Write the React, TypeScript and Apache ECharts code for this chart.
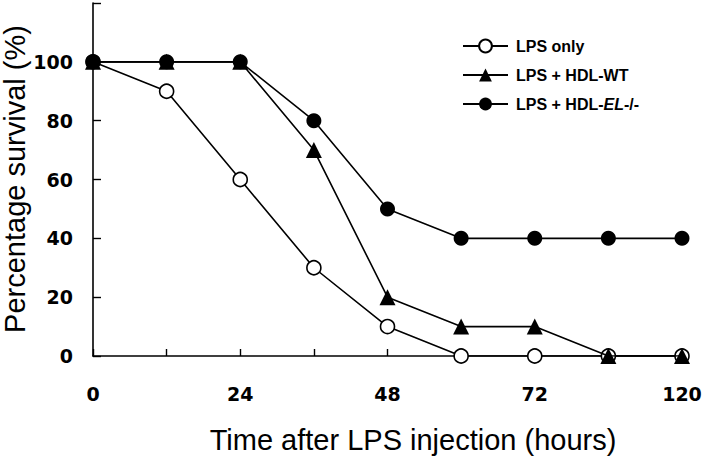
import React, { useEffect, useRef } from "react";
import * as echarts from "echarts";

const hours = ["0", "12", "24", "36", "48", "60", "72", "96", "120"];
const lpsOnly = [100, 90, 60, 30, 10, 0, 0, 0, 0];
const hdlWT = [100, 100, 100, 70, 20, 10, 10, 0, 0];
const hdlEL = [100, 100, 100, 80, 50, 40, 40, 40, 40];
const seriesNames = ["LPS only", "LPS + HDL-WT", "LPS + HDL-EL-/-"];
const yTicks = [0, 20, 40, 60, 80, 100];
const xTitle = "Time after LPS injection (hours)";
const yTitle = "Percentage survival (%)";

const FONT = "'Liberation Sans', Arial, sans-serif";
const TICKFONT = "'DejaVu Sans', sans-serif";

export default function App() {
  const ref = useRef<HTMLDivElement>(null);
  useEffect(() => {
    const chart = echarts.init(ref.current!, null, { renderer: "svg" });
    const lineStyle = { color: "#000", width: 1.6 };
    chart.setOption({
      animation: false,
      backgroundColor: "#fff",
      grid: { left: 93, right: 23, top: 3, bottom: 107, containLabel: false },
      graphic: [
        {
          type: "text",
          x: 413,
          y: 440,
          style: {
            text: xTitle,
            font: `29px ${FONT}`,
            fill: "#000",
            textAlign: "center",
            textVerticalAlign: "middle",
          },
        },
        {
          type: "text",
          x: 15,
          y: 179,
          rotation: Math.PI / 2,
          style: {
            text: yTitle,
            font: `29px ${FONT}`,
            fill: "#000",
            textAlign: "center",
            textVerticalAlign: "middle",
          },
        },
      ],
      legend: {
        orient: "vertical",
        left: 457,
        top: 33,
        itemWidth: 45,
        itemHeight: 16,
        itemGap: 13,
        data: seriesNames,
        textStyle: {
          fontFamily: FONT,
          fontWeight: "bold",
          fontSize: 16,
          color: "#000",
          padding: [0, 0, 0, 3],
          rich: {
            i: { fontFamily: FONT, fontWeight: "bold", fontStyle: "italic", fontSize: 16, color: "#000" },
          },
        },
        formatter: (name: string) =>
          name === "LPS + HDL-EL-/-" ? "LPS + HDL-{i|EL}-/-" : name,
      },
      xAxis: {
        type: "category",
        data: hours,
        boundaryGap: false,
        axisLine: { lineStyle: { color: "#000", width: 1.6 } },
        axisTick: { inside: true, length: 7, interval: 0, lineStyle: { color: "#000", width: 1.4 } },
        axisLabel: {
          interval: 1,
          margin: 28,
          fontFamily: TICKFONT,
          fontWeight: "bold",
          fontSize: 19,
          color: "#000",
        },
        splitLine: { show: false },
      },
      yAxis: {
        type: "value",
        min: 0,
        max: 120,
        interval: 20,
        axisLine: { show: true, lineStyle: { color: "#000", width: 1.6 } },
        axisTick: { show: true, inside: true, length: 8, lineStyle: { color: "#000", width: 1.4 } },
        axisLabel: {
          margin: 20,
          fontFamily: TICKFONT,
          fontWeight: "bold",
          fontSize: 19,
          color: "#000",
          formatter: (v: number) => (yTicks.includes(v) ? String(v) : ""),
        },
        splitLine: { show: false },
      },
      series: [
        {
          name: seriesNames[0],
          type: "line",
          data: lpsOnly,
          symbol: "circle",
          symbolSize: 14,
          lineStyle,
          itemStyle: { color: "#fff", borderColor: "#000", borderWidth: 1.6 },
          z: 2,
        },
        {
          name: seriesNames[2],
          type: "line",
          data: hdlEL,
          symbol: "circle",
          symbolSize: 15,
          lineStyle,
          itemStyle: { color: "#000", borderColor: "#000", borderWidth: 0 },
          z: 3,
        },
        {
          name: seriesNames[1],
          type: "line",
          data: hdlWT,
          symbol: "triangle",
          symbolSize: 16,
          lineStyle,
          itemStyle: { color: "#000", borderColor: "#000", borderWidth: 0 },
          z: 4,
        },
      ],
    });
    return () => chart.dispose();
  }, []);
  return <div ref={ref} style={{ width: 705, height: 463, position: "absolute", left: 0, top: 0 }} />;
}
